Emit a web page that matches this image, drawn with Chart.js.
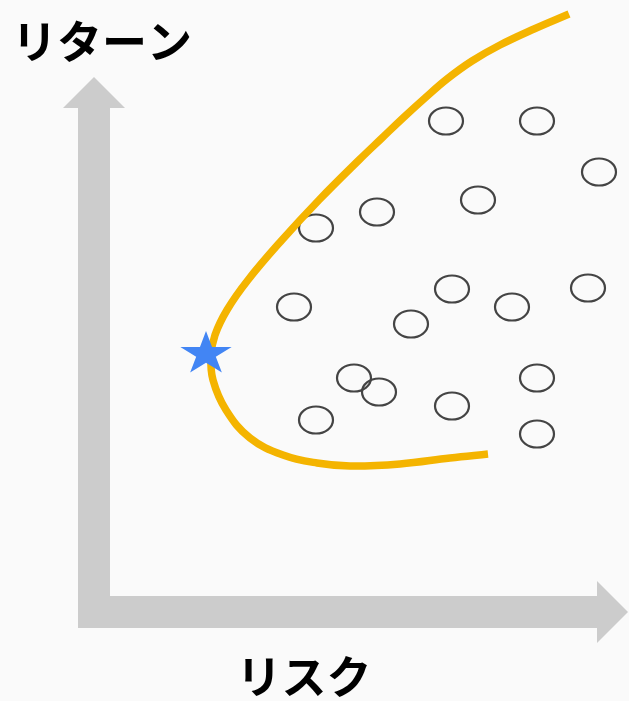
<!DOCTYPE html>
<html>
<head>
<meta charset="utf-8">
<script src="https://cdn.jsdelivr.net/npm/chart.js@4"></script>
<style>
  html, body { margin: 0; padding: 0; background: #fafafa; }
  canvas { display: block; }
</style>
</head>
<body>
<canvas id="frontierChart" width="629" height="701"></canvas>
<script>
const xLabel = 'リスク';
const yLabel = 'リターン';

// individual assets (risk, return)
const assetRisk   = [7.04, 8.86, 10.10, 5.66, 7.68, 4.44, 4.00, 7.16, 8.36, 9.88, 6.34, 5.20, 5.70, 8.86, 4.44, 7.16, 8.86];
const assetReturn = [9.82, 9.82, 8.80, 8.00, 8.24, 7.68, 6.10, 6.46, 6.10, 6.48, 5.76, 4.68, 4.40, 4.68, 3.84, 4.12, 3.56];

// efficient frontier curve
const frontierRisk   = [9.50, 8.80, 8.12, 7.56, 7.06, 6.62, 6.18, 5.76, 5.30, 4.50, 3.76, 3.08, 2.66, 2.42, 2.34, 2.38, 2.64, 3.12, 3.78, 4.46, 5.12, 6.12, 7.12, 7.88];
const frontierReturn = [11.96, 11.66, 11.34, 11.02, 10.66, 10.28, 9.88, 9.48, 9.04, 8.24, 7.44, 6.64, 6.04, 5.54, 5.12, 4.64, 4.04, 3.48, 3.14, 2.98, 2.92, 2.96, 3.08, 3.16];

// minimum variance portfolio
const minVarRisk = [2.24];
const minVarReturn = [5.18];

const toPoints = (xs, ys) => xs.map((x, i) => ({ x: x, y: ys[i] }));

// ellipse marker
const ring = document.createElement('canvas');
ring.width = 40; ring.height = 32;
(function () {
  const c = ring.getContext('2d');
  c.strokeStyle = '#444444';
  c.lineWidth = 2.2;
  c.beginPath();
  c.ellipse(20, 16, 17, 13.5, 0, 0, Math.PI * 2);
  c.stroke();
})();

// star marker
const star = document.createElement('canvas');
star.width = 60; star.height = 56;
(function () {
  const c = star.getContext('2d');
  c.translate(30, 29);
  c.scale(1.08, 0.92);
  c.fillStyle = '#4285F4';
  c.beginPath();
  for (let i = 0; i < 10; i++) {
    const r = i % 2 === 0 ? 25 : 25 * 0.382;
    const a = -Math.PI / 2 + i * Math.PI / 5;
    c.lineTo(r * Math.cos(a), r * Math.sin(a));
  }
  c.closePath();
  c.fill();
})();

const decor = {
  id: 'decor',
  beforeDraw(chart) {
    const c = chart.ctx;
    c.save();
    c.fillStyle = '#fafafa';
    c.fillRect(0, 0, chart.width, chart.height);
    c.restore();
  },
  beforeDatasetsDraw(chart) {
    const c = chart.ctx;
    const xs = chart.scales.x, ys = chart.scales.y;
    const ox = xs.getPixelForValue(0), oy = ys.getPixelForValue(0);
    const half = 16, head = 31;
    c.save();
    c.fillStyle = '#cccccc';
    // vertical arrow
    c.beginPath();
    c.moveTo(ox - half, oy + half);
    c.lineTo(ox - half, 108);
    c.lineTo(ox - head, 108);
    c.lineTo(ox, 77);
    c.lineTo(ox + head, 108);
    c.lineTo(ox + half, 108);
    c.lineTo(ox + half, oy - half);
    // horizontal arrow
    c.lineTo(597, oy - half);
    c.lineTo(597, oy - head);
    c.lineTo(628, oy);
    c.lineTo(597, oy + head);
    c.lineTo(597, oy + half);
    c.closePath();
    c.fill();

    c.fillStyle = '#000000';
    c.font = 'bold 45px "Noto Sans CJK JP", sans-serif';
    c.textAlign = 'center';
    c.textBaseline = 'middle';
    c.fillText(yLabel, 102, 42);
    c.fillText(xLabel, 304, 677);
    c.restore();
  }
};

new Chart(document.getElementById('frontierChart'), {
  type: 'scatter',
  data: {
    datasets: [
      {
        data: toPoints(minVarRisk, minVarReturn),
        pointStyle: star,
        pointRadius: 26
      },
      {
        data: toPoints(frontierRisk, frontierReturn),
        showLine: true,
        borderColor: '#F4B400',
        borderWidth: 7.5,
        tension: 0.4,
        pointRadius: 0,
        fill: false
      },
      {
        data: toPoints(assetRisk, assetReturn),
        pointStyle: ring,
        pointRadius: 18
      }
    ]
  },
  plugins: [decor],
  options: {
    responsive: false,
    animation: false,
    layout: { padding: 0, autoPadding: false },
    plugins: {
      legend: { display: false },
      tooltip: { enabled: false }
    },
    scales: {
      x: { type: 'linear', min: -1.88, max: 10.7, display: false },
      y: { type: 'linear', min: -1.78, max: 12.24, display: false }
    }
  }
});
</script>
</body>
</html>
